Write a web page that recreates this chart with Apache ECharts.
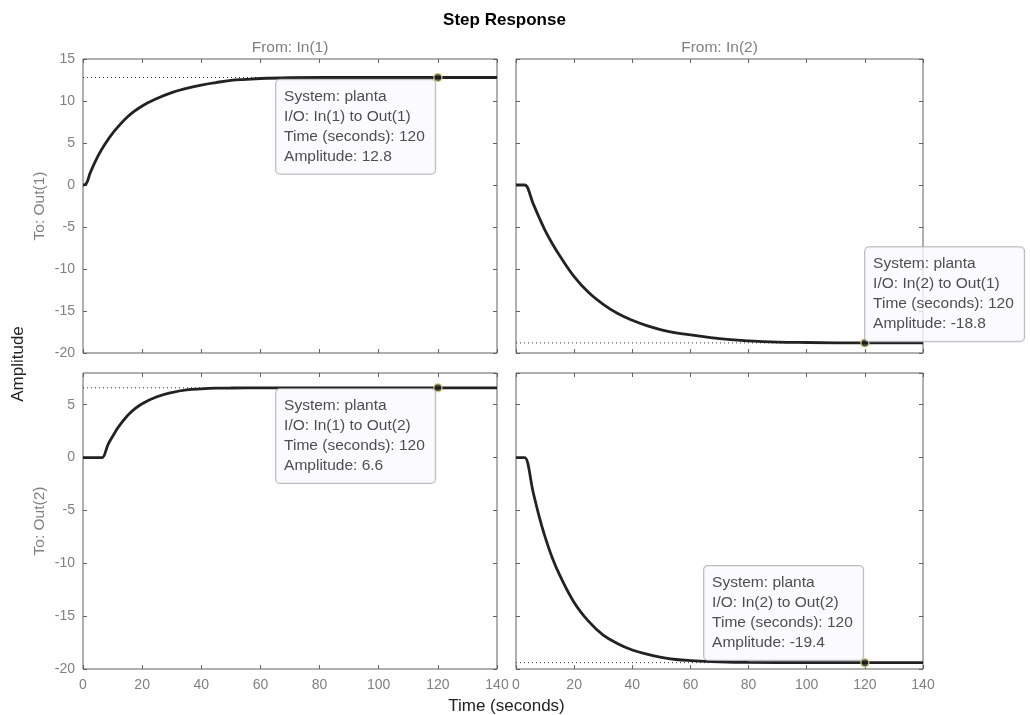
<!DOCTYPE html>
<html>
<head>
<meta charset="utf-8">
<title>Step Response</title>
<script src="https://cdn.jsdelivr.net/npm/echarts@6/dist/echarts.min.js"></script>
<style>
html, body { margin: 0; padding: 0; background: #fff; }
#main { width: 1030px; height: 715px; }
</style>
</head>
<body>
<div id="main"></div>
<script>
// step response of "planta" (2 inputs, 2 outputs)
var inputNames = ['In(1)', 'In(2)'];
var outputNames = ['Out(1)', 'Out(2)'];

// In(1) -> Out(1)
var t11 = [0, 1, 2.5, 5, 7.5, 10, 15, 20, 25, 30, 35, 40, 45, 50, 55, 60, 70, 80, 100, 120, 140];
var y11 = [0, 0.1, 1.5, 3.4, 4.9, 6.15, 8.1, 9.4, 10.3, 11.0, 11.5, 11.9, 12.2, 12.45, 12.57, 12.68, 12.77, 12.8, 12.8, 12.8, 12.8];
// In(2) -> Out(1)
var t21 = [0, 2.5, 3, 6, 8, 10, 12.5, 15, 20, 25, 30, 35, 40, 45, 50, 55, 60, 70, 80, 90, 100, 120, 140];
var y21 = [0, 0, 0, -2.3, -3.9, -5.4, -7.0, -8.4, -10.9, -12.8, -14.2, -15.3, -16.1, -16.75, -17.25, -17.6, -17.85, -18.3, -18.55, -18.7, -18.75, -18.8, -18.8];
// In(1) -> Out(2)
var t12 = [0, 6, 6.5, 8.5, 10, 12, 15, 17.5, 20, 25, 30, 35, 40, 45, 50, 60, 80, 100, 120, 140];
var y12 = [0, 0, 0, 1.25, 2.0, 2.9, 3.95, 4.6, 5.1, 5.75, 6.15, 6.4, 6.5, 6.56, 6.58, 6.6, 6.6, 6.6, 6.6, 6.6];
// In(2) -> Out(2)
var t22 = [0, 2.5, 3, 6, 8, 10, 12.5, 15, 20, 25, 30, 35, 40, 45, 50, 55, 60, 70, 80, 100, 120, 140];
var y22 = [0, 0, 0, -3.4, -5.6, -7.5, -9.5, -11.1, -13.7, -15.5, -16.8, -17.6, -18.2, -18.6, -18.9, -19.1, -19.2, -19.32, -19.38, -19.4, -19.4, -19.4];

// panel order: top-left, top-right, bottom-left, bottom-right
var panelTimes = [t11, t21, t12, t22];
var panelValues = [y11, y21, y12, y22];
var steadyState = [12.8, -18.8, 6.6, -19.4];
var tipTime = 120;
var tipAmplitude = [12.8, -18.8, 6.6, -19.4];
var systemName = 'planta';

var xMin = 0, xMax = 140, xStep = 20;
var yMinRows = [-20, -20];
var yMaxRows = [15, 8];
var yStep = 5;

var font = 'Liberation Sans';
var grayText = '#808080';
var boxColor = '#616161';

var gridPos = [
    { left: 83, top: 59, width: 414, height: 294 },
    { left: 516, top: 59, width: 407, height: 294 },
    { left: 83, top: 373, width: 414, height: 296 },
    { left: 516, top: 373, width: 407, height: 296 }
];

// datatip box: fixed text width, placed relative to the marker
var tipTextWidth = 143;
var tipLayout = [
    { position: [-157, 7], verticalAlign: 'top' },
    { position: [5, 3], verticalAlign: 'bottom' },
    { position: [-157, 6], verticalAlign: 'top' },
    { position: [-156, 2], verticalAlign: 'bottom' }
];

var myChart = echarts.init(document.getElementById('main'));

var grids = [], xAxes = [], yAxes = [], series = [];

for (var i = 0; i < 4; i++) {
    var row = i >> 1, col = i & 1;
    grids.push({
        left: gridPos[i].left, top: gridPos[i].top,
        width: gridPos[i].width, height: gridPos[i].height,
        show: true, borderColor: boxColor, borderWidth: 1,
        backgroundColor: '#fff', containLabel: false
    });

    var tick = { show: true, inside: true, length: 4, lineStyle: { color: boxColor } };
    var noLine = { show: false, onZero: false };

    // bottom x axis
    xAxes.push({
        gridIndex: i, type: 'value', position: 'bottom',
        min: xMin, max: xMax, interval: xStep,
        axisLine: noLine, splitLine: { show: false },
        axisTick: tick,
        axisLabel: { show: row === 1, color: grayText, fontSize: 14, fontFamily: font, margin: 9 }
    });
    // top x axis (ticks only + column title)
    xAxes.push({
        gridIndex: i, type: 'value', position: 'top',
        min: xMin, max: xMax, interval: xStep,
        axisLine: noLine, splitLine: { show: false },
        axisTick: tick, axisLabel: { show: false },
        name: row === 0 ? 'From: ' + inputNames[col] : '',
        nameLocation: 'middle', nameGap: 3,
        nameTextStyle: { color: grayText, fontSize: 15.5, fontFamily: font }
    });
    // left y axis
    yAxes.push({
        gridIndex: i, type: 'value', position: 'left',
        min: yMinRows[row], max: yMaxRows[row], interval: yStep,
        axisLine: noLine, splitLine: { show: false },
        axisTick: tick,
        axisLabel: {
            show: col === 0, color: grayText, fontSize: 14, fontFamily: font, margin: 8,
            showMaxLabel: row === 0
        },
        name: col === 0 ? 'To: ' + outputNames[row] : '',
        nameLocation: 'middle', nameGap: 35, nameRotate: 90,
        nameTextStyle: { color: grayText, fontSize: 15.5, fontFamily: font }
    });
    // right y axis (ticks only)
    yAxes.push({
        gridIndex: i, type: 'value', position: 'right',
        min: yMinRows[row], max: yMaxRows[row], interval: yStep,
        axisLine: noLine, splitLine: { show: false },
        axisTick: tick, axisLabel: { show: false }
    });

    var pts = panelTimes[i].map(function(t, k) { return [t, panelValues[i][k]]; });

    // steady state (dotted)
    series.push({
        type: 'line', xAxisIndex: 2 * i, yAxisIndex: 2 * i,
        data: [[xMin, steadyState[i]], [xMax, steadyState[i]]],
        showSymbol: false, silent: true, z: 2,
        lineStyle: { color: '#333', width: 1, type: [1, 3] }
    });
    // response curve
    series.push({
        type: 'line', xAxisIndex: 2 * i, yAxisIndex: 2 * i,
        data: pts, showSymbol: false, smooth: 0.4, z: 3,
        lineStyle: { color: '#222', width: 2.8 }
    });
    // datatip
    var ioText = 'I/O: ' + inputNames[col] + ' to ' + outputNames[row];
    series.push({
        type: 'scatter', xAxisIndex: 2 * i, yAxisIndex: 2 * i,
        data: [[tipTime, tipAmplitude[i]]],
        symbolSize: 8, z: 10,
        itemStyle: { color: '#1c1c1c', borderColor: '#d9d27a', borderWidth: 1.5 },
        label: {
            show: true,
            formatter: ['System: ' + systemName, ioText,
                'Time (seconds): ' + tipTime, 'Amplitude: ' + tipAmplitude[i]].join('\n'),
            position: tipLayout[i].position,
            align: 'left',
            verticalAlign: tipLayout[i].verticalAlign,
            width: tipTextWidth, overflow: 'none',
            backgroundColor: '#fafaff', borderColor: '#a8a8a8', borderWidth: 1, borderRadius: 4,
            padding: [7, 8, 7, 8],
            color: '#222', fontSize: 15.5, lineHeight: 20, fontFamily: font
        }
    });
}

var option = {
    animation: false,
    backgroundColor: '#fff',
    grid: grids,
    xAxis: xAxes,
    yAxis: yAxes,
    series: series,
    graphic: [
        {
            type: 'text', x: 504.5, y: 20,
            style: { text: 'Step Response', font: 'bold 17px "Liberation Sans"', fill: '#000', align: 'center', verticalAlign: 'middle' }
        },
        {
            type: 'text', x: 506.5, y: 706,
            style: { text: 'Time (seconds)', font: '17px "Liberation Sans"', fill: '#222', align: 'center', verticalAlign: 'middle' }
        },
        {
            type: 'text', x: 18, y: 364, rotation: Math.PI / 2,
            style: { text: 'Amplitude', font: '17px "Liberation Sans"', fill: '#222', align: 'center', verticalAlign: 'middle' }
        }
    ]
};

myChart.setOption(option);
</script>
</body>
</html>
